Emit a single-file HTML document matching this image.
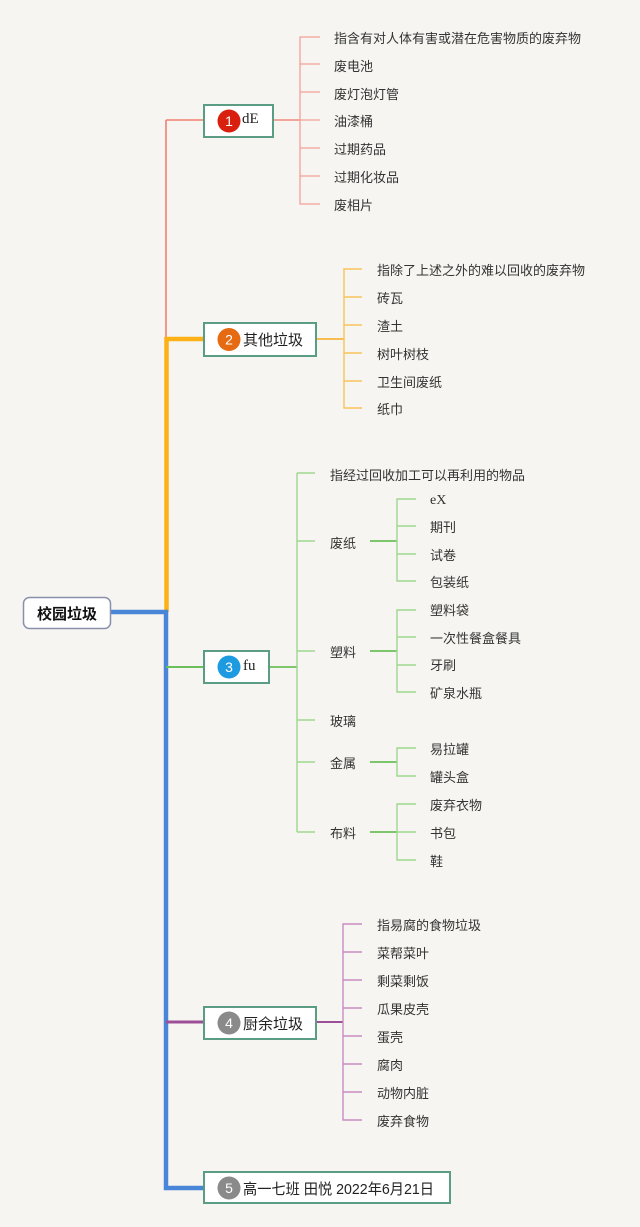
<!DOCTYPE html>
<html><head><meta charset="utf-8">
<style>
html,body{margin:0;padding:0;background:#f6f5f1;}
svg{display:block;}
text{font-family:"Liberation Sans","Noto Sans CJK SC",sans-serif;fill:#333;}
.t{font-size:13px;}
.b{font-size:15px;fill:#222;}
.s{font-family:"Liberation Serif","Noto Serif CJK SC",serif;}
.n{font-size:14px;fill:#fff;text-anchor:middle;}
</style></head>
<body>
<svg width="640" height="1227" viewBox="0 0 640 1227" xmlns="http://www.w3.org/2000/svg">
<rect width="640" height="1227" fill="#f6f5f1"/>

<!-- main trunk -->
<path d="M166 120 V339" stroke="#f08070" stroke-width="1.6" fill="none"/>
<path d="M166 120 H203" stroke="#f08070" stroke-width="1.6" fill="none"/>
<path d="M203 339 H166.5 V612" stroke="#fbb117" stroke-width="4.5" fill="none"/>
<path d="M111 612 H166 V1188 H203" stroke="#4a86d8" stroke-width="4.5" fill="none"/>
<path d="M166 667 H203" stroke="#6cc05a" stroke-width="2" fill="none"/>
<path d="M166 1022 H203" stroke="#9c4f96" stroke-width="3" fill="none"/>

<!-- root -->
<rect x="23.5" y="597.5" width="87" height="31" rx="6" fill="#fff" stroke="#8a90aa" stroke-width="1.5"/>
<text x="67" y="619" class="b" style="font-weight:bold;text-anchor:middle;fill:#111">校园垃圾</text>

<!-- branch 1 -->
<path d="M273 120 H300" stroke="#f08a7e" stroke-width="1.6" fill="none"/>
<g stroke="#f4a097" stroke-width="1.3" fill="none">
<path d="M320 37 H300 V204 H320"/>
<path d="M300 64 H320 M300 92 H320 M300 120 H320 M300 148 H320 M300 176 H320"/>
</g>
<rect x="204" y="105" width="69" height="32" fill="#fff" stroke="#5a9c84" stroke-width="2"/>
<circle cx="229" cy="121" r="11.5" fill="#d9200f"/>
<text x="229" y="126" class="n">1</text>
<text x="242" y="123" class="b s">dE</text>
<g class="t">
<text x="334" y="43" class="t">指含有对人体有害或潜在危害物质的废弃物</text>
<text x="334" y="71" class="t">废电池</text>
<text x="334" y="99" class="t">废灯泡灯管</text>
<text x="334" y="126" class="t">油漆桶</text>
<text x="334" y="154" class="t">过期药品</text>
<text x="334" y="182" class="t">过期化妆品</text>
<text x="334" y="210" class="t">废相片</text>
</g>

<!-- branch 2 -->
<path d="M316 339 H344" stroke="#f6b53a" stroke-width="1.8" fill="none"/>
<g stroke="#f9c45a" stroke-width="1.4" fill="none">
<path d="M362 269 H344 V408 H362"/>
<path d="M344 297 H362 M344 325 H362 M344 353 H362 M344 381 H362"/>
</g>
<rect x="204" y="323" width="112" height="33" fill="#fff" stroke="#5a9c84" stroke-width="2"/>
<circle cx="229" cy="339.5" r="11.5" fill="#e56a12"/>
<text x="229" y="344.5" class="n">2</text>
<text x="243" y="345" class="b">其他垃圾</text>
<text x="377" y="275" class="t">指除了上述之外的难以回收的废弃物</text>
<text x="377" y="303" class="t">砖瓦</text>
<text x="377" y="331" class="t">渣土</text>
<text x="377" y="359" class="t">树叶树枝</text>
<text x="377" y="387" class="t">卫生间废纸</text>
<text x="377" y="414" class="t">纸巾</text>

<!-- branch 3 -->
<g stroke="#6cc05a" stroke-width="1.8" fill="none">
<path d="M269 667 H297"/>
<path d="M370 541 H397 M370 651 H397 M370 762 H397 M370 832 H397"/>
</g>
<g stroke="#9ed88e" stroke-width="1.4" fill="none">
<path d="M297 473 V832"/>
<path d="M297 473 H315 M297 541 H315 M297 651 H315 M297 720 H315 M297 762 H315 M297 832 H315"/>
<path d="M416 499 H397 V581 H416 M397 526 H416 M397 554 H416"/>
<path d="M416 610 H397 V692 H416 M397 637 H416 M397 665 H416"/>
<path d="M416 748 H397 V776 H416"/>
<path d="M416 804 H397 V860 H416 M397 832 H416"/>
</g>
<rect x="204" y="651" width="65" height="32" fill="#fff" stroke="#5a9c84" stroke-width="2"/>
<circle cx="229" cy="667" r="11.5" fill="#1e9be0"/>
<text x="229" y="672" class="n">3</text>
<text x="243" y="670" class="b s">fu</text>
<text x="330" y="480" class="t">指经过回收加工可以再利用的物品</text>
<text x="330" y="548" class="t">废纸</text>
<text x="330" y="657" class="t">塑料</text>
<text x="330" y="726" class="t">玻璃</text>
<text x="330" y="768" class="t">金属</text>
<text x="330" y="838" class="t">布料</text>
<text x="430" y="504" class="t s" style="font-size:14px">eX</text>
<text x="430" y="532" class="t">期刊</text>
<text x="430" y="560" class="t">试卷</text>
<text x="430" y="587" class="t">包装纸</text>
<text x="430" y="615" class="t">塑料袋</text>
<text x="430" y="643" class="t">一次性餐盒餐具</text>
<text x="430" y="670" class="t">牙刷</text>
<text x="430" y="698" class="t">矿泉水瓶</text>
<text x="430" y="754" class="t">易拉罐</text>
<text x="430" y="782" class="t">罐头盒</text>
<text x="430" y="810" class="t">废弃衣物</text>
<text x="430" y="838" class="t">书包</text>
<text x="430" y="866" class="t">鞋</text>

<!-- branch 4 -->
<path d="M316 1022 H343" stroke="#9c4f96" stroke-width="2" fill="none"/>
<g stroke="#c98cc2" stroke-width="1.4" fill="none">
<path d="M362 924 H343 V1120 H362"/>
<path d="M343 952 H362 M343 980 H362 M343 1008 H362 M343 1036 H362 M343 1064 H362 M343 1092 H362"/>
</g>
<rect x="204" y="1007" width="112" height="32" fill="#fff" stroke="#5a9c84" stroke-width="2"/>
<circle cx="229" cy="1023" r="11.5" fill="#8a8a8a"/>
<text x="229" y="1028" class="n">4</text>
<text x="243" y="1029" class="b">厨余垃圾</text>
<text x="377" y="930" class="t">指易腐的食物垃圾</text>
<text x="377" y="958" class="t">菜帮菜叶</text>
<text x="377" y="986" class="t">剩菜剩饭</text>
<text x="377" y="1014" class="t">瓜果皮壳</text>
<text x="377" y="1042" class="t">蛋壳</text>
<text x="377" y="1070" class="t">腐肉</text>
<text x="377" y="1098" class="t">动物内脏</text>
<text x="377" y="1126" class="t">废弃食物</text>

<!-- branch 5 -->
<rect x="204" y="1172" width="246" height="31" fill="#fff" stroke="#5a9c84" stroke-width="2"/>
<circle cx="229" cy="1188" r="11.5" fill="#8a8a8a"/>
<text x="229" y="1193" class="n">5</text>
<text x="243" y="1194" class="b" textLength="191" lengthAdjust="spacingAndGlyphs">高一七班 田悦 2022年6月21日</text>
</svg>
</body></html>
